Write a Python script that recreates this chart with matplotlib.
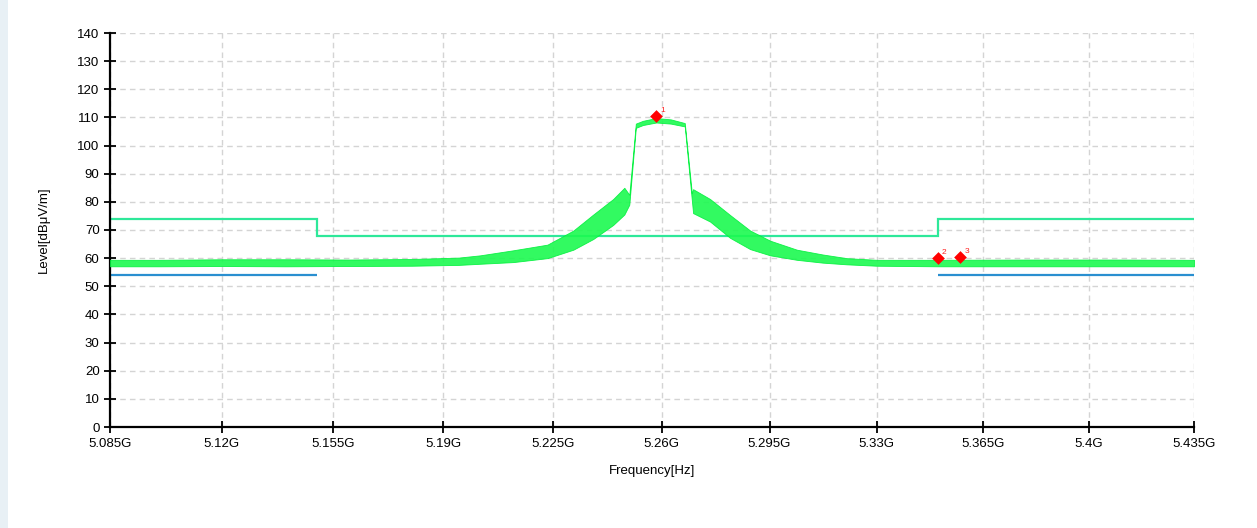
import matplotlib.pyplot as plt
import numpy as np
from matplotlib.patches import Rectangle

plt.rcParams['font.family'] = ['Liberation Sans', 'DejaVu Sans']

# measured trace envelope (GHz, dBuV/m)
trace_freq = [5.085, 5.10, 5.12, 5.14, 5.16, 5.18, 5.195, 5.2018, 5.2124,
              5.2233, 5.2316, 5.2380, 5.2444, 5.2480, 5.2496, 5.2517, 5.2540,
              5.2583, 5.2630, 5.2675, 5.2698, 5.2702, 5.2757, 5.2822, 5.2887,
              5.2952, 5.3039, 5.3123, 5.3201, 5.33, 5.35, 5.38, 5.41, 5.435]
trace_low = [57.1, 57.1, 57.2, 57.1, 57.2, 57.3, 57.6, 58.0, 58.6,
             60.0, 63.0, 66.8, 71.8, 75.5, 79.0, 106.3, 107.3,
             108.2, 107.8, 106.8, 80.5, 76.0, 73.0, 67.2, 63.2,
             61.0, 59.4, 58.4, 57.8, 57.3, 57.1, 57.1, 57.1, 57.1]
trace_high = [59.4, 59.4, 59.6, 59.6, 59.5, 59.7, 60.2, 61.0, 62.8,
              64.8, 69.8, 75.5, 81.0, 85.0, 82.5, 107.8, 108.8,
              109.8, 109.3, 108.0, 83.0, 84.5, 81.0, 75.3, 69.8,
              66.2, 63.0, 61.3, 60.0, 59.4, 59.4, 59.5, 59.5, 59.4]

# limit lines
limit_edges = [5.085, 5.15, 5.35, 5.435]
peak_limit = [74, 68, 74]
avg_limit_spans = [(5.085, 5.15), (5.35, 5.435)]
avg_limit = 54

# markers
marker_freq = [5.2583, 5.35, 5.3574]
marker_level = [110.6, 59.9, 60.5]
marker_names = ['1', '2', '3']

tick_freq = [5.085, 5.12, 5.155, 5.19, 5.225, 5.26, 5.295, 5.33, 5.365, 5.4, 5.435]
tick_labels = ['5.085G', '5.12G', '5.155G', '5.19G', '5.225G', '5.26G',
               '5.295G', '5.33G', '5.365G', '5.4G', '5.435G']

# the frequency axis of the analyser display is slightly compressed
# towards the stop frequency
F0, STEP = 5.085, 0.035
A, B = 112.25, -0.382


def freq_to_axis(f):
    k = (np.asarray(f, dtype=float) - F0) / STEP
    return A * k + B * k ** 2


def axis_to_freq(y):
    y = np.asarray(y, dtype=float)
    k = (-A + np.sqrt(np.maximum(A ** 2 + 4 * B * y, 0))) / (2 * B)
    return F0 + k * STEP


fig = plt.figure(figsize=(12.57, 5.28), dpi=100)
fig.patches.append(Rectangle((0, 0), 8 / 1257, 1, transform=fig.transFigure,
                             facecolor='#e8f0f5', edgecolor='none'))
ax = fig.add_axes([110 / 1257, 1 - 427 / 528, 1084 / 1257, 394 / 528])
ax.set_xscale('function', functions=(freq_to_axis, axis_to_freq))

ax.fill_between(trace_freq, trace_low, trace_high, color='#1cfa50',
                linewidth=0.6, edgecolor='#00f03c', alpha=0.9, zorder=3)

ax.stairs(peak_limit, limit_edges, baseline=None, color='#2ee89a',
          linewidth=1.6, zorder=2)
for x0, x1 in avg_limit_spans:
    ax.hlines(avg_limit, x0, x1, color='#2a8fd0', linewidth=1.6, zorder=2)

ax.scatter(marker_freq, marker_level, marker='D', s=42, color='#ff0000',
           zorder=5, linewidths=0)
for f, lv, name in zip(marker_freq, marker_level, marker_names):
    ax.annotate(name, (f, lv), xytext=(3, 3), textcoords='offset points',
                color='#ff2020', fontsize=6, zorder=6)

ax.set_xlim(5.085, 5.435)
ax.set_ylim(0, 140)
ax.set_xticks(tick_freq)
ax.set_xticklabels(tick_labels)
ax.set_xticks([], minor=True)
ax.set_yticks(range(0, 141, 10))

ax.grid(True, color='#d4d4d4', linestyle=(0, (4, 3)), linewidth=1)
ax.set_axisbelow(True)
for side in ['top', 'right']:
    ax.spines[side].set_visible(False)
for side in ['left', 'bottom']:
    ax.spines[side].set_linewidth(1.6)
    ax.spines[side].set_color('black')
ax.tick_params(direction='inout', length=8, width=1.3, labelsize=9.5,
               colors='black')
ax.tick_params(axis='x', pad=4)

ax.set_xlabel('Frequency[Hz]', fontsize=9.5, labelpad=11)
ax.set_ylabel('Level[dBμV/m]', fontsize=9.5, labelpad=20)

fig.savefig('out.png', dpi=100)
